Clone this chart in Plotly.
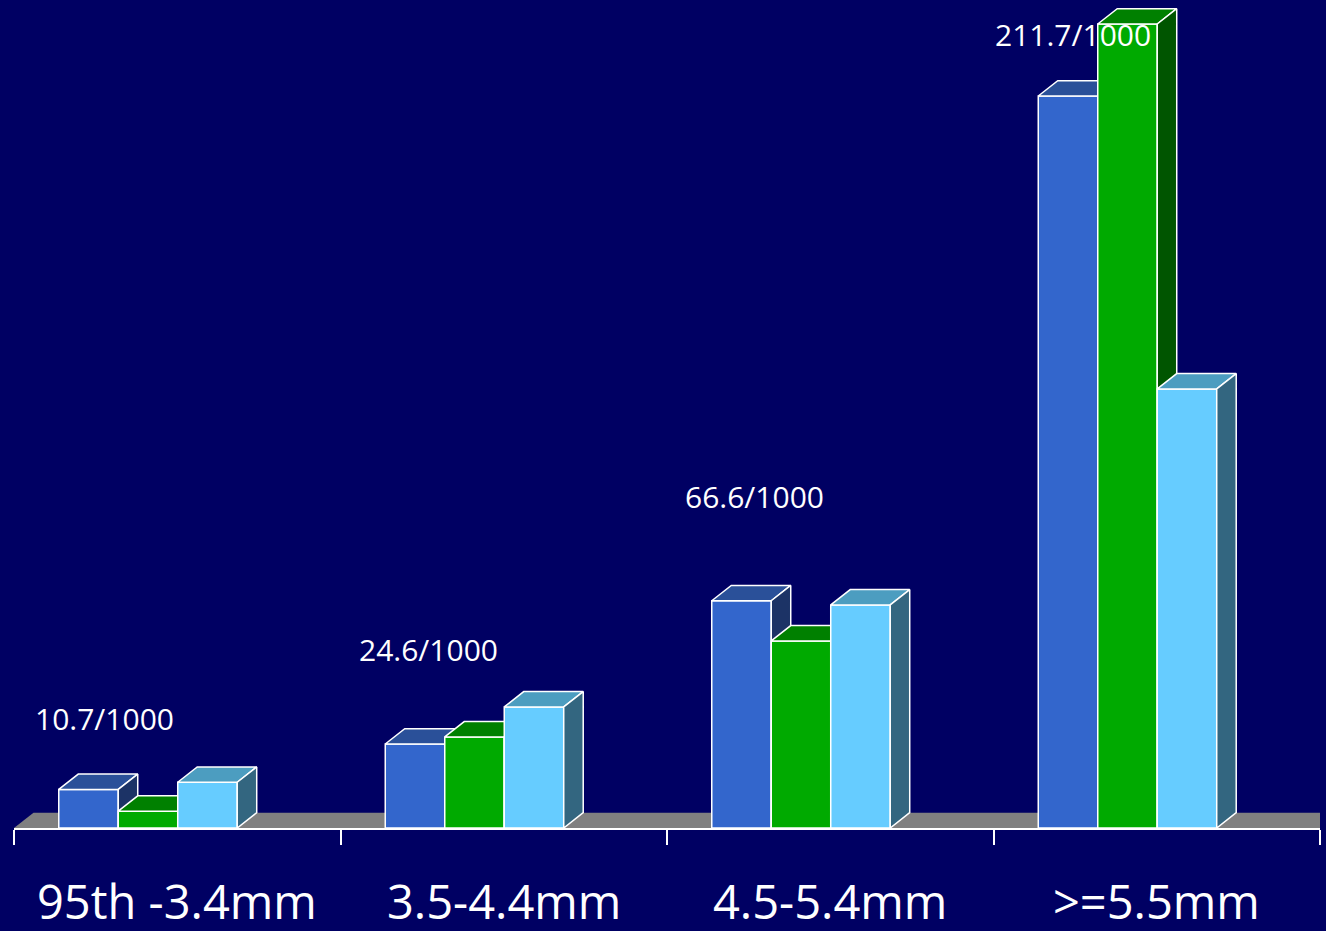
import plotly.graph_objects as go

# ---------------- data ----------------
categories = ["95th -3.4mm", "3.5-4.4mm", "4.5-5.4mm", ">=5.5mm"]
series_names = ["Series 1", "Series 2", "Series 3"]
series1_values = [10.3, 22.4, 60.6, 195.2]
series2_values = [4.5, 24.3, 49.9, 214.4]
series3_values = [12.2, 32.3, 59.5, 117.1]
rate_labels = ["10.7/1000", "24.6/1000", "66.6/1000", "211.7/1000"]

# ---------------- styles ----------------
BG = "#000063"
FRONT = ["#3366CC", "#00AA00", "#66CCFF"]
TOP = ["#2A5099", "#008000", "#4C9DC0"]
SIDE = ["#1C3366", "#005500", "#336680"]
FLOOR = "#808080"
EDGE = "white"

BAR_W = 0.1822        # bar width in category units
GROUP_OFFSET = -0.0896  # shift of group centre vs category centre
DX = 0.0597           # 3D depth along x (category units)
DY = 4.08             # 3D depth along y (value units)
Y_MAX = 220.8

values = [series1_values, series2_values, series3_values]

fig = go.Figure()

def poly(xs, ys, fill, line_w=1.5, name=None):
    fig.add_trace(go.Scatter(
        x=xs, y=ys, mode="lines", fill="toself", fillcolor=fill,
        line=dict(color=EDGE if line_w > 0 else fill, width=line_w if line_w > 0 else 0),
        hoverinfo="skip", showlegend=False, name=name,
    ))

# floor
x0, x1 = -0.5, len(categories) - 0.5
poly([x0, x0 + DX, x1 + DX, x1, x0], [0, DY, DY, 0, 0], FLOOR, line_w=0)

# bars
for i, cat in enumerate(categories):
    for j, vals in enumerate(values):
        h = vals[i]
        xl = i + GROUP_OFFSET - 1.5 * BAR_W + j * BAR_W
        xr = xl + BAR_W
        poly([xl, xr, xr, xl, xl], [0, 0, h, h, 0], FRONT[j], name=series_names[j])
        poly([xl, xl + DX, xr + DX, xr, xl], [h, h + DY, h + DY, h, h], TOP[j])
        poly([xr, xr + DX, xr + DX, xr, xr], [0, DY, h + DY, h, 0], SIDE[j])

# rate annotations (positions in axis units)
label_x = [-0.224, 0.771, 1.7695, 2.745]
label_y = [29.3, 47.7, 88.3, 211.5]
for lx, ly, txt in zip(label_x, label_y, rate_labels):
    fig.add_annotation(x=lx, y=ly, text=txt, showarrow=False,
                       xanchor="center", yanchor="middle",
                       font=dict(family="Open Sans", size=30, color="white"))

# category labels
for i, cat in enumerate(categories):
    fig.add_annotation(x=i, y=0, text=cat, showarrow=False,
                       xanchor="center", yanchor="middle", yshift=-73,
                       font=dict(family="Open Sans", size=47, color="white"))

fig.update_layout(
    width=1326, height=931,
    margin=dict(l=14, r=6, t=0, b=103),
    paper_bgcolor=BG, plot_bgcolor=BG,
    showlegend=False,
    xaxis=dict(range=[-0.5, len(categories) - 0.5],
               tickvals=[k - 0.5 for k in range(len(categories) + 1)],
               showticklabels=False, ticks="outside", ticklen=15, tickwidth=2,
               tickcolor="white", showline=True, linecolor="white", linewidth=2,
               showgrid=False, zeroline=False, fixedrange=True),
    yaxis=dict(range=[0, Y_MAX], visible=False, fixedrange=True),
)

fig.write_html("out.html")
